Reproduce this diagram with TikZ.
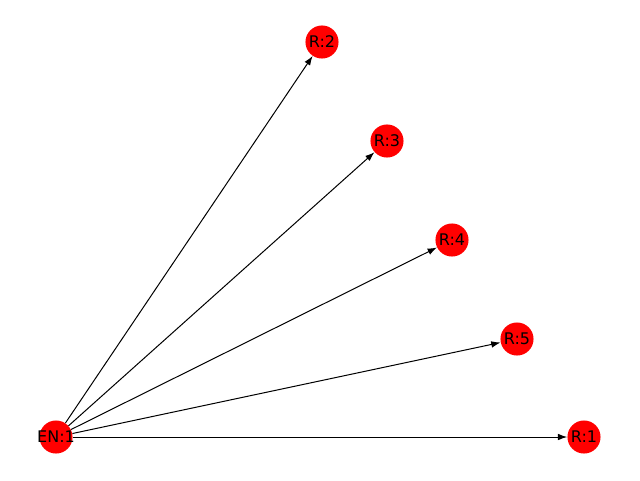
\documentclass[tikz,border=0pt]{standalone}
\usepackage{fontspec}
\setmainfont{DejaVu Sans}
\usetikzlibrary{arrows.meta}

\begin{document}
\begin{tikzpicture}[x=0.75pt, y=-0.75pt,
    vert/.style={circle, fill=red, inner sep=0pt, minimum size=24.8pt},
    tag/.style={font=\fontsize{12}{12}\selectfont, inner sep=0pt},
    edge/.style={-{Latex[length=7pt,width=5pt]}, line width=0.75pt}]
            \useasboundingbox (0,0) rectangle (640,480);
            \node[vert] (en1) at (56,437) {};
            \node[vert] (r2) at (322,42) {};
            \node[vert] (r3) at (387,141) {};
            \node[vert] (r4) at (452,240) {};
            \node[vert] (r5) at (517,339) {};
            \node[vert] (r1) at (584,437) {};
            \foreach \t in {r2, r3, r4, r5, r1}
                \draw[edge] (en1) -- (\t);
            % labels over the nodes
            \foreach \n/\s in {en1/EN:1, r2/R:2, r3/R:3, r4/R:4, r5/R:5, r1/R:1}
                \node[tag] at (\n) {\s};
        \end{tikzpicture}
\end{document}
